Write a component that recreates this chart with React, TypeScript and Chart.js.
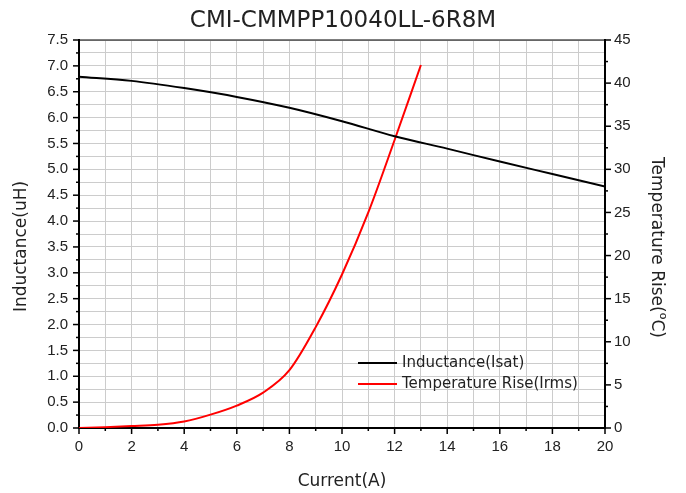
import React, { useEffect, useRef } from 'react';
import { Chart, registerables } from 'chart.js';

Chart.register(...registerables);

const TITLE = 'CMI-CMMPP10040LL-6R8M';
const X_LABEL = 'Current(A)';
const Y_LABEL = 'Inductance(uH)';
const Y2_LABEL_PARTS = ['Temperature Rise(', 'o', 'C)'];
const SERIES_NAMES = ['Inductance(Isat)', 'Temperature Rise(Irms)'];

const inductanceCurrent = [0, 2, 4, 6, 8, 10, 12, 14, 16, 18, 20];
const inductanceValues = [6.79, 6.71, 6.57, 6.4, 6.19, 5.93, 5.64, 5.4, 5.15, 4.91, 4.67];

const tempCurrent = [0, 1, 2, 3, 4, 5, 6, 7, 8, 9, 10, 11, 12, 13];
const tempValues = [0, 0.1, 0.23, 0.38, 0.75, 1.55, 2.6, 4.1, 6.7, 11.7, 17.8, 25.0, 33.4, 42.1];

const X_MIN = 0, X_MAX = 20;
const Y_MIN = 0, Y_MAX = 7.5;
const Y2_MIN = 0, Y2_MAX = 45;

const GOTHIC = '"DejaVu Sans", "Open Sans", sans-serif';
const ARIAL = '"Liberation Sans", Arial, sans-serif';
const TEXT = '#222222';

const decorPlugin = {
  id: 'decor',
  afterDraw(chart: any) {
    const { ctx, chartArea: a, scales, width, height } = chart;
    const x = scales.x, y = scales.y, y2 = scales.y2;
    const line = (x1: number, y1: number, x2: number, y2_: number) => {
      ctx.beginPath();
      ctx.moveTo(x1, y1);
      ctx.lineTo(x2, y2_);
      ctx.stroke();
    };
    ctx.save();
    ctx.strokeStyle = '#000';
    ctx.lineWidth = 1.2;
    line(a.left, a.top, a.right, a.top);
    ctx.lineWidth = 1.5;
    for (let v = X_MIN; v <= X_MAX; v += 1) {
      const px = x.getPixelForValue(v);
      const len = v % 2 === 0 ? 6 : 3;
      line(px, a.bottom, px, a.bottom + len);
    }
    for (let i = 0; i <= 30; i++) {
      const v = Y_MIN + i * 0.25;
      const py = y.getPixelForValue(v);
      const len = i % 2 === 0 ? 6 : 3;
      line(a.left - len, py, a.left, py);
    }
    for (let i = 0; i <= 18; i++) {
      const v = Y2_MIN + i * 2.5;
      const py = y2.getPixelForValue(v);
      const len = i % 2 === 0 ? 6 : 3;
      line(a.right, py, a.right + len, py);
    }

    // axis titles (vertical ones centred on the canvas height)
    ctx.fillStyle = TEXT;
    ctx.textBaseline = 'middle';
    ctx.font = `17px ${GOTHIC}`;
    ctx.save();
    ctx.translate(22, height / 2);
    ctx.rotate(-Math.PI / 2);
    ctx.textAlign = 'center';
    ctx.fillText(Y_LABEL, 0, 0);
    ctx.restore();

    ctx.save();
    ctx.translate(656, height / 2 + 1);
    ctx.rotate(Math.PI / 2);
    ctx.textAlign = 'left';
    const mainFont = `17px ${GOTHIC}`;
    const supFont = `11px ${GOTHIC}`;
    ctx.font = mainFont;
    const w1 = ctx.measureText(Y2_LABEL_PARTS[0]).width;
    const w3 = ctx.measureText(Y2_LABEL_PARTS[2]).width;
    ctx.font = supFont;
    const w2 = ctx.measureText(Y2_LABEL_PARTS[1]).width;
    let sx = -(w1 + w2 + w3) / 2;
    ctx.font = mainFont;
    ctx.fillText(Y2_LABEL_PARTS[0], sx, 0);
    sx += w1;
    ctx.font = supFont;
    ctx.fillText(Y2_LABEL_PARTS[1], sx, -7);
    sx += w2;
    ctx.font = mainFont;
    ctx.fillText(Y2_LABEL_PARTS[2], sx, 0);
    ctx.restore();

    // legend
    const ds = chart.data.datasets;
    const lx = a.left + 279;
    const ly = a.top + 323;
    ctx.font = `15px ${GOTHIC}`;
    ctx.textBaseline = 'middle';
    ctx.textAlign = 'left';
    ds.forEach((d: any, i: number) => {
      const yy = ly + i * 21;
      ctx.strokeStyle = d.borderColor;
      ctx.lineWidth = 2;
      line(lx, yy, lx + 39, yy);
      ctx.fillStyle = TEXT;
      ctx.fillText(d.label, lx + 44, yy);
    });
    ctx.restore();
  },
};

export default function App() {
  const ref = useRef<HTMLCanvasElement | null>(null);
  useEffect(() => {
    if (!ref.current) return;
    const chart = new Chart(ref.current, {
      type: 'line',
      data: {
        datasets: [
          {
            label: SERIES_NAMES[0],
            data: inductanceCurrent.map((c, i) => ({ x: c, y: inductanceValues[i] })),
            borderColor: '#000000',
            borderWidth: 2,
            pointRadius: 0,
            yAxisID: 'y',
            cubicInterpolationMode: 'monotone',
          },
          {
            label: SERIES_NAMES[1],
            data: tempCurrent.map((c, i) => ({ x: c, y: tempValues[i] })),
            borderColor: '#ff0000',
            borderWidth: 2,
            pointRadius: 0,
            yAxisID: 'y2',
            cubicInterpolationMode: 'monotone',
          },
        ],
      },
      options: {
        animation: false,
        responsive: false,
        layout: { padding: 0 },
        plugins: {
          legend: { display: false },
          tooltip: { enabled: false },
          title: {
            display: true,
            text: TITLE,
            color: TEXT,
            font: { family: GOTHIC, size: 23, weight: 'normal' },
            padding: { top: 7, bottom: 5.4 },
          },
        },
        scales: {
          x: {
            type: 'linear',
            min: X_MIN,
            max: X_MAX,
            afterFit: (s: any) => { s.height = 65; },
            border: { color: '#000', width: 2 },
            grid: { color: '#cccccc', lineWidth: 1, drawTicks: false },
            ticks: {
              stepSize: 1,
              autoSkip: false,
              maxRotation: 0,
              padding: 10,
              color: TEXT,
              font: { family: ARIAL, size: 15 },
              callback: (v: any) => (Number(v) % 2 === 0 ? String(v) : ''),
            },
            title: {
              display: true,
              text: X_LABEL,
              color: TEXT,
              font: { family: GOTHIC, size: 17 },
              padding: { top: 0, bottom: 1 },
            },
          },
          y: {
            type: 'linear',
            position: 'left',
            min: Y_MIN,
            max: Y_MAX,
            afterFit: (s: any) => { s.width = 79; },
            border: { color: '#000', width: 2 },
            grid: { color: '#cccccc', lineWidth: 1, drawTicks: false },
            ticks: {
              stepSize: 0.25,
              autoSkip: false,
              padding: 11,
              color: TEXT,
              font: { family: ARIAL, size: 15 },
              callback: (v: any) => {
                const n = Number(v);
                return Math.abs(n * 2 - Math.round(n * 2)) < 1e-6 ? n.toFixed(1) : '';
              },
            },
            title: { display: false },
          },
          y2: {
            type: 'linear',
            position: 'right',
            min: Y2_MIN,
            max: Y2_MAX,
            afterFit: (s: any) => { s.width = 81; },
            border: { color: '#000', width: 2 },
            grid: { drawOnChartArea: false, drawTicks: false },
            ticks: {
              stepSize: 5,
              autoSkip: false,
              padding: 9,
              color: TEXT,
              font: { family: ARIAL, size: 15 },
            },
            title: { display: false },
          },
        },
      },
      plugins: [decorPlugin],
    } as any);
    return () => chart.destroy();
  }, []);
  return (
    <div style={{ position: 'fixed', left: 0, top: 0, width: 686, height: 493, background: '#fff' }}>
      <canvas ref={ref} width={686} height={493} />
    </div>
  );
}
